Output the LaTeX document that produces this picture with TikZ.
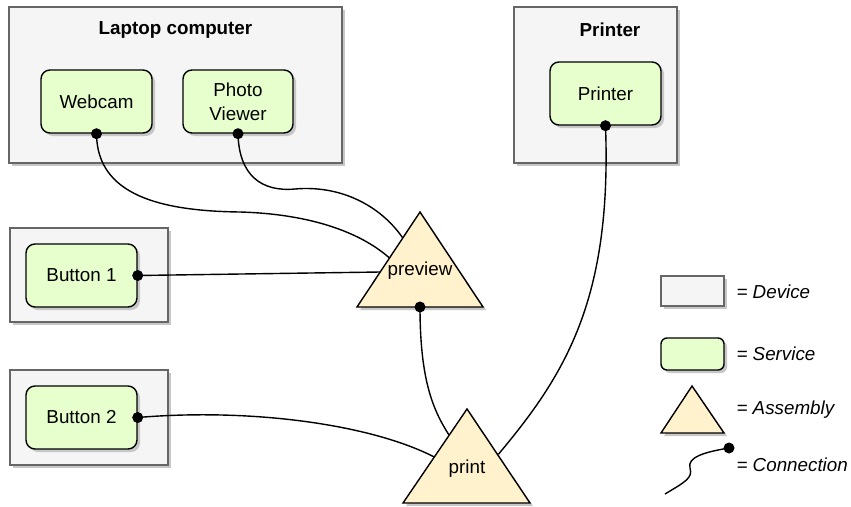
\documentclass[tikz,border=0pt]{standalone}
\usepackage{fontspec}
\setmainfont{Liberation Sans}
\usetikzlibrary{shadows}
\definecolor{devfill}{HTML}{F5F5F5}
\definecolor{devline}{HTML}{666666}
\definecolor{svcfill}{HTML}{E6FFCC}
\definecolor{asmfill}{HTML}{FFF2CC}
\begin{document}
\begin{tikzpicture}[x=1pt,y=-1pt,
  font=\fontsize{18.8}{21}\selectfont,
  shad/.style={drop shadow={shadow xshift=3pt,shadow yshift=-3pt,opacity=1,fill=black!22}},
  device/.style={rectangle,draw=devline,fill=devfill,line width=1.4pt,inner sep=0pt,shad},
  service/.style={rectangle,draw=black,fill=svcfill,line width=1.4pt,rounded corners=9pt,inner sep=0pt,align=center,shad},
  assembly/.style={draw=black,fill=asmfill,line width=1.4pt,line join=miter,shad},
  conn/.style={line width=1.4pt},
  dotn/.style={circle,fill=black,inner sep=0pt,minimum size=11pt},
  title/.style={font=\fontsize{18.8}{21}\selectfont\bfseries},
  legtext/.style={anchor=west,font=\fontsize{18.8}{21}\selectfont\itshape}]
\useasboundingbox (0,0) rectangle (851,506);
\fill[white] (0,0) rectangle (851,506);

% devices
\node[device,minimum width=333pt,minimum height=156pt] (laptop) at (175.5,85) {};
\node[title] (laptoptitle) at (175.5,30) {Laptop computer};
\node[device,minimum width=163pt,minimum height=156pt] (printerdev) at (595.5,85) {};
\node[title] (printertitle) at (610,30) {Printer};
\node[device,minimum width=158pt,minimum height=94pt] (b1dev) at (89,275) {};
\node[device,minimum width=158pt,minimum height=95pt] (b2dev) at (89,417.5) {};

% services
\node[service,minimum width=111pt,minimum height=63pt] (webcam) at (96.5,101.5) {Webcam};
\node[service,minimum width=110pt,minimum height=63pt] (photo) at (238,101.5) {Photo\\[3pt]Viewer};
\node[service,minimum width=111pt,minimum height=63pt] (printer) at (605.5,93.5) {Printer};
\node[service,minimum width=111pt,minimum height=63pt] (button1) at (81.5,275.5) {Button 1};
\node[service,minimum width=111pt,minimum height=63pt] (button2) at (81.5,417.5) {Button 2};

% connection end points on assemblies
\coordinate (pvA) at (389.5,258);
\coordinate (pvB) at (402.8,238);
\coordinate (pvC) at (380.2,272);
\coordinate (pvBot) at (420,307);
\coordinate (prA) at (449,435);
\coordinate (prB) at (434.3,457);
\coordinate (prC) at (497.8,455);

% connectors
\draw[conn] (webcam.south) .. controls (97,195) and (160,211) .. (240,212)
  .. controls (310,214) and (360,232) .. (pvA);
\draw[conn] (photo.south) .. controls (239,176) and (262,192) .. (295,189)
  .. controls (340,185) and (380,205) .. (pvB);
\draw[conn] (button1.east) -- (pvC);
\draw[conn] (pvBot) .. controls (420,380) and (433,410) .. (prA);
\draw[conn] (button2.east) .. controls (250,408) and (370,424) .. (prB);
\draw[conn] (printer.south) .. controls (612,300) and (565,375) .. (prC);

% assemblies
\draw[assembly] (357,307) -- (420,212) -- (483,307) -- cycle;
\node (preview) at (420,271) {preview};
\draw[assembly] (403,503) -- (467,409) -- (530,503) -- cycle;
\node (print) at (467,469) {print};

% dots
\node[dotn] (d1) at (webcam.south) {};
\node[dotn] (d2) at (photo.south) {};
\node[dotn] (d3) at (printer.south) {};
\node[dotn] (d4) at (button1.east) {};
\node[dotn] (d5) at (button2.east) {};
\node[dotn] (d6) at (pvBot) {};

% legend
\node[device,minimum width=63pt,minimum height=30pt] (legdev) at (692.5,291) {};
\node[legtext] (legdevt) at (733,292) {= Device};
\node[service,minimum width=63pt,minimum height=32pt,rounded corners=6pt] (legsvc) at (692.5,354) {};
\node[legtext] (legsvct) at (733,354) {= Service};
\draw[assembly] (661,433) -- (692,386) -- (724,433) -- cycle;
\node[legtext] (legasmt) at (733,410) {= Assembly};
\coordinate (legstart) at (665,494);
\coordinate (legend) at (729,448);
\draw[conn] (legstart) .. controls (685,482) and (693,478) .. (690,468)
  .. controls (687,457) and (705,452) .. (legend);
\node[dotn] (legdot) at (legend) {};
\node[legtext] (legcont) at (733,465) {= Connection};
\end{tikzpicture}
\end{document}
